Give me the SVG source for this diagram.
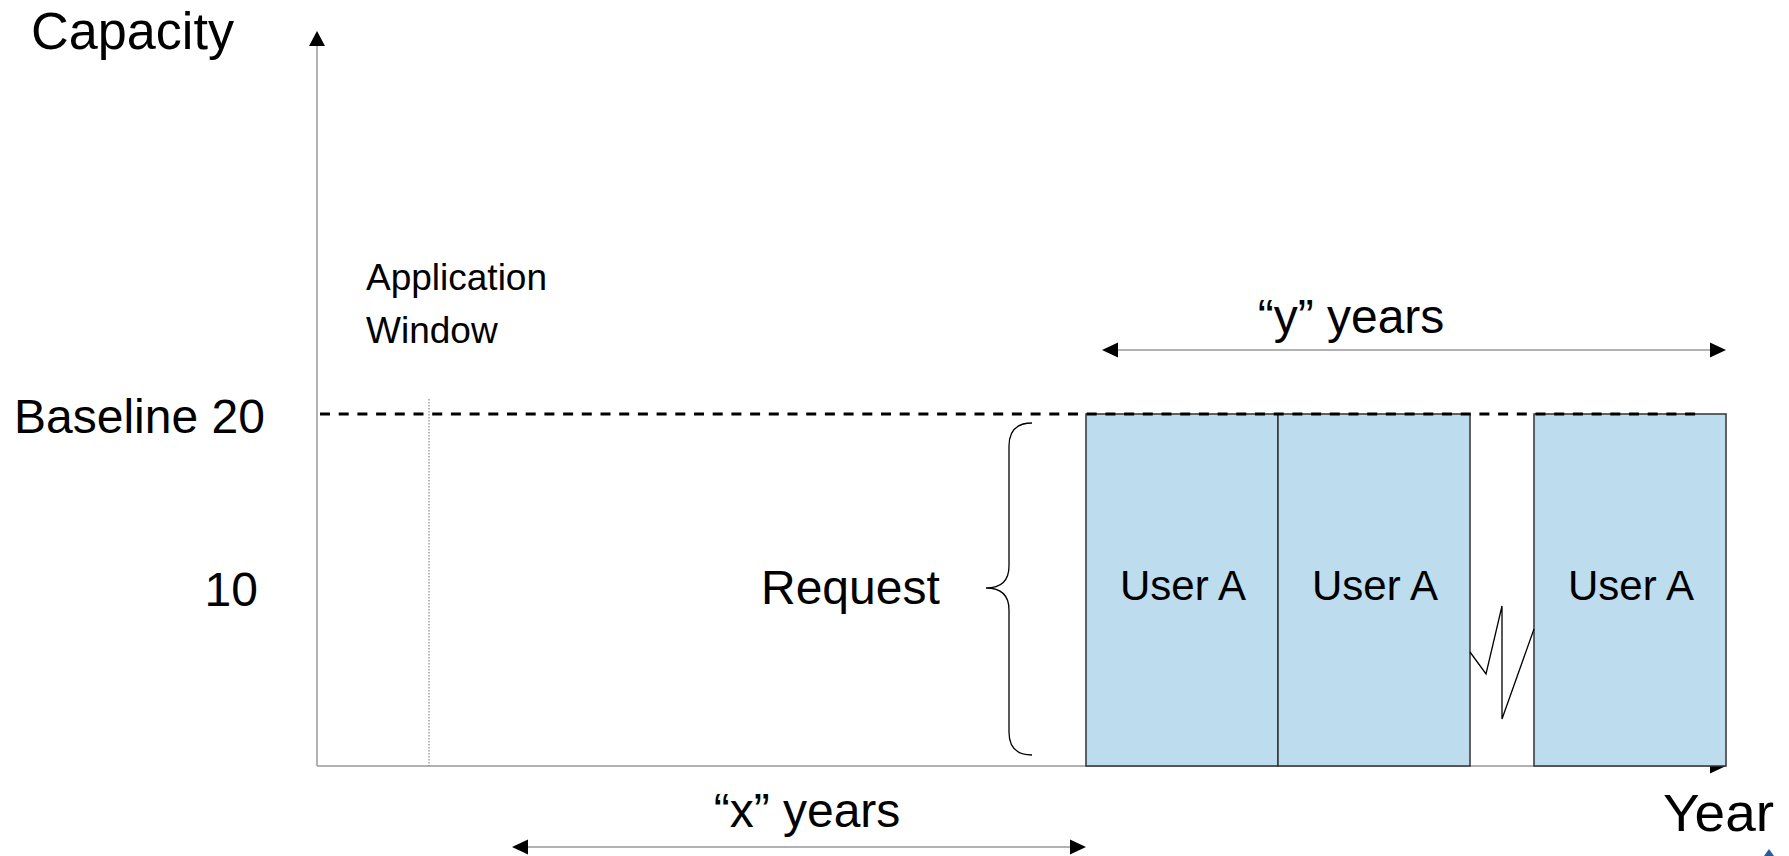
<svg xmlns="http://www.w3.org/2000/svg" width="1789" height="856" viewBox="0 0 1789 856">
  <defs>
    <style>
      text { font-family: "Liberation Sans", Arial, sans-serif; fill: #000; }
      .big { font-size: 48px; }
      .axisl { font-size: 51px; }
      .small { font-size: 37px; }
      .box { fill: #BDDCED; stroke: #333; stroke-width: 1.5; }
      .usr { font-size: 42px; text-anchor: middle; }
      .gray { stroke: #999; stroke-width: 1.5; fill: none; }
      .thin { stroke: #000; stroke-width: 1.3; fill: none; }
      .head { fill: #000; }
    </style>
  </defs>
  <rect width="1789" height="856" fill="#fff"/>

  <g id="axes">
    <line class="gray" x1="317" y1="766" x2="317" y2="44"/>
    <polygon class="head" points="317,31 309,46 325,46"/>
    <line class="gray" x1="317" y1="766" x2="1712" y2="766"/>
    <polygon class="head" points="1726,766 1710,758.5 1710,773.5"/>
  </g>

  <g id="application-window">
    <line x1="429" y1="399" x2="429" y2="766" stroke="#888" stroke-width="1.2" stroke-dasharray="1.5,1.5"/>
    <text class="small" x="366" y="290">Application</text>
    <text class="small" x="366" y="343">Window</text>
  </g>

  <g id="labels">
    <text class="axisl" x="31" y="49" textLength="203" lengthAdjust="spacingAndGlyphs">Capacity</text>
    <text class="big" x="14" y="433">Baseline 20</text>
    <text class="big" x="258" y="606" text-anchor="end">10</text>
    <text class="axisl" x="1663" y="831" textLength="111" lengthAdjust="spacingAndGlyphs">Year</text>
  </g>

  <g id="request">
    <path class="thin" d="M1032,423 Q1009,423 1009,446 L1009,566 Q1009,588 986,588 Q1009,588 1009,610 L1009,732 Q1009,755 1032,755"/>
    <text class="big" x="761" y="604">Request</text>
  </g>

  <g id="user-a-1">
    <rect class="box" x="1086" y="414" width="192" height="352"/>
    <text class="usr" x="1183" y="600">User A</text>
  </g>
  <g id="user-a-2">
    <rect class="box" x="1278" y="414" width="192" height="352"/>
    <text class="usr" x="1375" y="600">User A</text>
  </g>
  <g id="user-a-3">
    <rect class="box" x="1534" y="414" width="192" height="352"/>
    <text class="usr" x="1631" y="600">User A</text>
  </g>

  <g id="break">
    <polyline class="thin" points="1470,652 1486,674 1502,606 1502,719 1534,629"/>
  </g>

  <g id="baseline">
    <line x1="320" y1="414" x2="1696" y2="414" stroke="#000" stroke-width="2.8" stroke-dasharray="10,8.7"/>
  </g>

  <g id="connectors">
    <g id="y-years">
      <line class="gray" x1="1116" y1="350" x2="1712" y2="350"/>
      <polygon class="head" points="1102,350 1118,342.5 1118,357.5"/>
      <polygon class="head" points="1726,350 1710,342.5 1710,357.5"/>
    </g>
    <g id="x-years">
      <line class="gray" x1="526" y1="847" x2="1072" y2="847"/>
      <polygon class="head" points="512,847 528,839.5 528,854.5"/>
      <polygon class="head" points="1086,847 1070,839.5 1070,854.5"/>
    </g>
  </g>
  <text class="big" x="1351" y="333" text-anchor="middle">“y” years</text>
  <text class="big" x="807" y="827" text-anchor="middle">“x” years</text>

  <polygon points="1764,856 1769,849 1774,856" fill="#1f5f9f"/>
</svg>
